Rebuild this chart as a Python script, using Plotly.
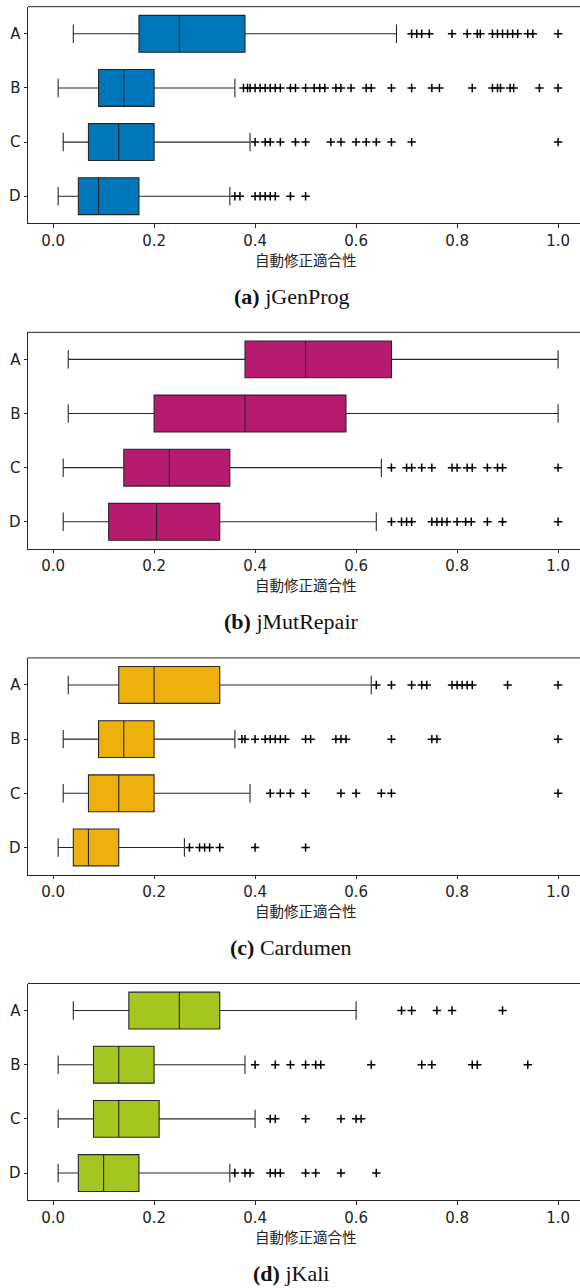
import plotly.graph_objects as go

W, H = 580, 1288

categories = ["A", "B", "C", "D"]
tools = ["jGenProg", "jMutRepair", "Cardumen", "jKali"]
panel_tags = ["(a)", "(b)", "(c)", "(d)"]
box_colors = ["#0077BB", "#B71B70", "#EEB00C", "#A5C520"]

# Box statistics per tool, in category order A, B, C, D
jgenprog_low = [0.04, 0.01, 0.02, 0.01]
jgenprog_q1 = [0.17, 0.09, 0.07, 0.05]
jgenprog_med = [0.25, 0.14, 0.13, 0.09]
jgenprog_q3 = [0.38, 0.20, 0.20, 0.17]
jgenprog_high = [0.68, 0.36, 0.39, 0.35]
jgenprog_outliers = [
    [0.71, 0.72, 0.73, 0.745, 0.79, 0.82, 0.84, 0.846, 0.87, 0.88, 0.89, 0.90,
     0.91, 0.92, 0.94, 0.95, 1.0],
    [0.377, 0.385, 0.39, 0.40, 0.41, 0.42, 0.43, 0.44, 0.45, 0.47, 0.48, 0.50,
     0.517, 0.528, 0.538, 0.56, 0.57, 0.59, 0.62, 0.63, 0.67, 0.71, 0.75,
     0.765, 0.83, 0.87, 0.88, 0.886, 0.905, 0.912, 0.963, 1.0],
    [0.40, 0.42, 0.43, 0.45, 0.48, 0.50, 0.55, 0.57, 0.60, 0.62, 0.64, 0.67,
     0.71, 1.0],
    [0.36, 0.37, 0.40, 0.41, 0.42, 0.43, 0.44, 0.47, 0.50],
]

jmutrepair_low = [0.03, 0.03, 0.02, 0.02]
jmutrepair_q1 = [0.38, 0.20, 0.14, 0.11]
jmutrepair_med = [0.50, 0.38, 0.23, 0.205]
jmutrepair_q3 = [0.67, 0.58, 0.35, 0.33]
jmutrepair_high = [1.0, 1.0, 0.65, 0.64]
jmutrepair_outliers = [
    [],
    [],
    [0.67, 0.70, 0.71, 0.73, 0.75, 0.79, 0.80, 0.82, 0.83, 0.86, 0.88, 0.89,
     1.0],
    [0.67, 0.69, 0.70, 0.71, 0.75, 0.76, 0.77, 0.78, 0.80, 0.817, 0.828, 0.86,
     0.89, 1.0],
]

cardumen_low = [0.03, 0.02, 0.02, 0.01]
cardumen_q1 = [0.13, 0.09, 0.07, 0.04]
cardumen_med = [0.20, 0.14, 0.13, 0.07]
cardumen_q3 = [0.33, 0.20, 0.20, 0.13]
cardumen_high = [0.63, 0.36, 0.39, 0.26]
cardumen_outliers = [
    [0.64, 0.67, 0.71, 0.73, 0.74, 0.79, 0.80, 0.81, 0.82, 0.83, 0.90, 1.0],
    [0.374, 0.38, 0.40, 0.42, 0.43, 0.44, 0.45, 0.46, 0.50, 0.51, 0.56, 0.57,
     0.58, 0.67, 0.75, 0.76, 1.0],
    [0.43, 0.45, 0.47, 0.50, 0.57, 0.60, 0.65, 0.67, 1.0],
    [0.27, 0.29, 0.30, 0.31, 0.33, 0.40, 0.50],
]

jkali_low = [0.04, 0.01, 0.01, 0.01]
jkali_q1 = [0.15, 0.08, 0.08, 0.05]
jkali_med = [0.25, 0.13, 0.13, 0.10]
jkali_q3 = [0.33, 0.20, 0.21, 0.17]
jkali_high = [0.60, 0.38, 0.40, 0.35]
jkali_outliers = [
    [0.69, 0.71, 0.76, 0.79, 0.89],
    [0.40, 0.44, 0.47, 0.50, 0.52, 0.53, 0.63, 0.73, 0.75, 0.83, 0.84, 0.94],
    [0.43, 0.44, 0.50, 0.57, 0.60, 0.61],
    [0.36, 0.38, 0.39, 0.43, 0.44, 0.45, 0.50, 0.52, 0.57, 0.64],
]

x_ticks = [0.0, 0.2, 0.4, 0.6, 0.8, 1.0]
x_title = "自動修正適合性"

stats = [
    (jgenprog_low, jgenprog_q1, jgenprog_med, jgenprog_q3, jgenprog_high, jgenprog_outliers),
    (jmutrepair_low, jmutrepair_q1, jmutrepair_med, jmutrepair_q3, jmutrepair_high, jmutrepair_outliers),
    (cardumen_low, cardumen_q1, cardumen_med, cardumen_q3, cardumen_high, cardumen_outliers),
    (jkali_low, jkali_q1, jkali_med, jkali_q3, jkali_high, jkali_outliers),
]

# Panel geometry (pixels from the top of the page)
LEFT = 28
panel_top = [6.7, 332.3, 657.9, 983.5]
panel_h = 216.6


def py(px):
    return 1 - px / H


fig = go.Figure()
layout = {}
shapes = []
annotations = []
line_col = "#262626"

for i, (low, q1, med, q3, high, outl) in enumerate(stats):
    n = "" if i == 0 else str(i + 1)
    xa, ya = "x" + n, "y" + n
    fig.add_trace(go.Box(
        y=categories, q1=q1, median=med, q3=q3,
        lowerfence=low, upperfence=high,
        orientation="h", xaxis=xa, yaxis=ya,
        fillcolor=box_colors[i],
        line=dict(color=line_col, width=1.1),
        width=0.68, whiskerwidth=0.5,
        boxpoints=False, showlegend=False,
    ))
    ox, oy = [], []
    for cat, vals in zip(categories, outl):
        ox += vals
        oy += [cat] * len(vals)
    fig.add_trace(go.Scatter(
        x=ox, y=oy, mode="markers", xaxis=xa, yaxis=ya,
        marker=dict(symbol="cross-thin", size=6,
                    line=dict(color="black", width=1.5)),
        showlegend=False,
    ))

    top = panel_top[i]
    bottom = top + panel_h
    layout["xaxis" + n] = dict(
        domain=[0, 1], anchor=ya, range=[-0.0497, 1.0434],
        tickvals=x_ticks, ticktext=[f"{t:.1f}" for t in x_ticks],
        ticks="outside", ticklen=3.5, tickwidth=0.9, tickcolor=line_col,
        showline=True, linecolor=line_col, linewidth=1,
        showgrid=False, zeroline=False,
        tickfont=dict(family="DejaVu Sans", size=15, color="#222"),
    )
    layout["yaxis" + n] = dict(
        domain=[py(bottom), py(top)], anchor=xa,
        type="category", categoryorder="array",
        categoryarray=categories[::-1], range=[-0.5, 3.5],
        ticks="outside", ticklen=3.5, tickwidth=0.9, tickcolor=line_col,
        showline=True, linecolor=line_col, linewidth=1,
        showgrid=False, zeroline=False,
        tickfont=dict(family="DejaVu Sans", size=15, color="#222"),
    )
    # top spine (the right edge is clipped by the page)
    shapes.append(dict(
        type="line", xref=xa + " domain", yref=ya + " domain",
        x0=0, x1=1, y0=1, y1=1, line=dict(color=line_col, width=1),
    ))
    annotations.append(dict(
        text=x_title, xref="paper", yref="paper",
        x=(306 - LEFT) / (W - LEFT), y=py(bottom + 36),
        xanchor="center", yanchor="middle", showarrow=False,
        font=dict(family="Noto Sans CJK JP", size=14.5, color="#222"),
    ))
    annotations.append(dict(
        text=f"<b>{panel_tags[i]}</b> {tools[i]}", xref="paper", yref="paper",
        x=(291 - LEFT) / (W - LEFT), y=py(bottom + 73),
        xanchor="center", yanchor="middle", showarrow=False,
        font=dict(family="Liberation Serif", size=22, color="#111"),
    ))

fig.update_layout(
    width=W, height=H,
    margin=dict(l=LEFT, r=0, t=0, b=0),
    paper_bgcolor="white", plot_bgcolor="white",
    shapes=shapes, annotations=annotations,
    **layout,
)

fig.write_html("out.html")
